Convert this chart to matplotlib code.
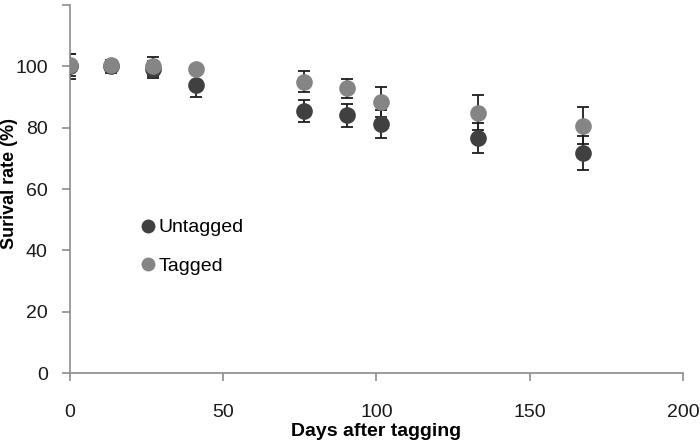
import matplotlib
matplotlib.use("Agg")
import matplotlib.pyplot as plt
from matplotlib.lines import Line2D

plt.rcParams['font.family'] = ['Liberation Sans', 'DejaVu Sans']

days = [0, 13.5, 27, 41, 76.5, 90.5, 101.5, 133, 167.5]
untagged = [100, 100, 99, 94, 85.5, 84, 81.3, 76.6, 71.8]
untagged_err = [4, 2, 2.7, 4, 3.5, 3.8, 4.5, 5, 5.5]
tagged = [100.5, 100.5, 100, 99.2, 95, 92.8, 88.4, 84.9, 80.6]
tagged_err = [3.5, 1, 3, 0.5, 3.5, 3, 5, 5.7, 6]

fig = plt.figure(figsize=(7, 4.43), dpi=100)
ax = fig.add_axes([0.1, 0.158, 0.8757, 0.8306])

ecol = '#1e1e1e'
c_un = '#404040'
c_tg = '#858585'

ax.errorbar(days, tagged, yerr=tagged_err, fmt='none', ecolor=ecol,
            elinewidth=1.3, capsize=4.5, capthick=1.3, zorder=2)
ax.errorbar(days, untagged, yerr=untagged_err, fmt='none', ecolor=ecol,
            elinewidth=1.3, capsize=4.5, capthick=1.3, zorder=2)
ax.plot(days, untagged, 'o', color=c_un, ms=12, mew=0, zorder=3)
ax.plot(days, tagged, 'o', color=c_tg, ms=12, mew=0, zorder=4)

ax.set_xlim(0, 200)
ax.set_ylim(0, 120)
ax.set_xticks([0, 50, 100, 150, 200])
ax.set_yticks([0, 20, 40, 60, 80, 100, 120])
ax.set_yticklabels(['0', '20', '40', '60', '80', '100', ''])

for s in ['top', 'right']:
    ax.spines[s].set_visible(False)
for s in ['left', 'bottom']:
    ax.spines[s].set_color('#8c8c8c')
    ax.spines[s].set_linewidth(1.2)
ax.tick_params(axis='both', direction='out', length=6, width=1.2,
               color='#8c8c8c', labelsize=14, labelcolor='#1a1a1a')
ax.tick_params(axis='x', pad=16)
ax.tick_params(axis='y', pad=10)

ax.set_xlabel('Days after tagging', fontsize=14, fontweight='bold', labelpad=2)
ax.set_ylabel('Surival rate (%)', fontsize=13, fontweight='bold')
ax.yaxis.set_label_coords(-0.085, 0.516)

handles = [Line2D([], [], marker='o', ls='none', color=c_un, ms=10, mew=0),
           Line2D([], [], marker='o', ls='none', color=c_tg, ms=10, mew=0)]
ax.legend(handles, ['Untagged', 'Tagged'], loc='upper left',
          bbox_to_anchor=(0.105, 0.44), frameon=False, fontsize=14,
          handlelength=0.6, handletextpad=0.25, labelspacing=1.05,
          borderaxespad=0)

fig.savefig('out.png', dpi=100)
